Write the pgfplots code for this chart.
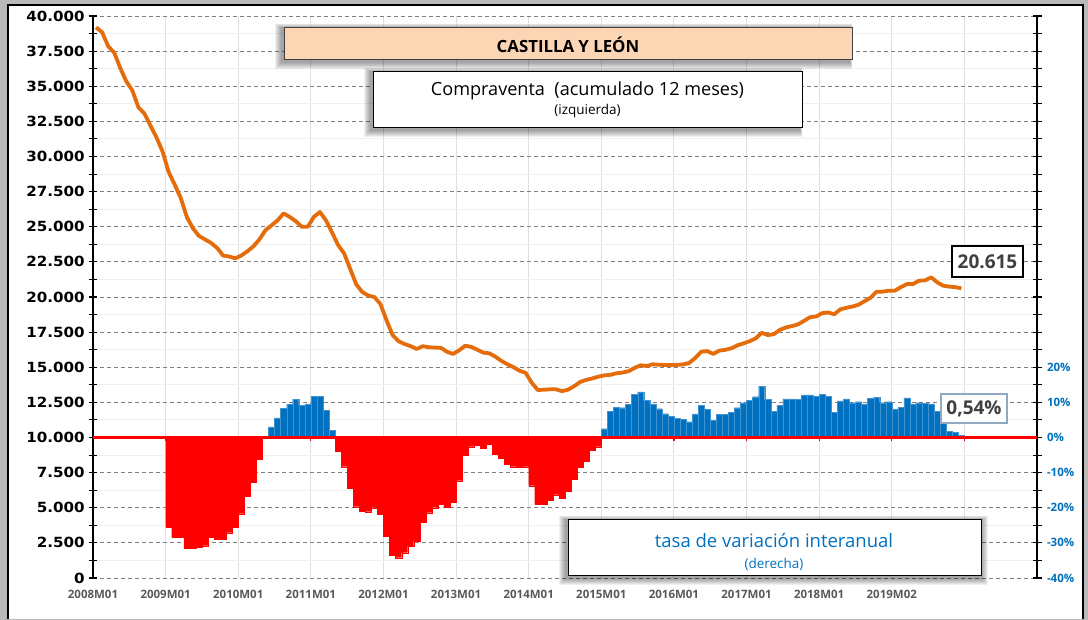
\documentclass[border=0pt]{standalone}
\usepackage{fontspec}
\setmainfont{Open Sans}
\newfontfamily\dejavu{DejaVu Sans}
\usepackage{pgfplots}
\pgfplotsset{compat=1.18}
\definecolor{lineOrange}{RGB}{228,108,10}
\definecolor{barBlue}{RGB}{0,112,192}
\definecolor{barRed}{RGB}{255,0,0}
\definecolor{titlePeach}{RGB}{252,213,181}
\definecolor{tickGray}{RGB}{89,89,89}
\definecolor{labelGray}{RGB}{64,64,64}
\definecolor{boxBlue}{RGB}{142,169,193}

\begin{document}
\begin{tikzpicture}[x=1pt,y=1pt]
% frame of the chart area
\fill[gray!55] (0pt,0pt) rectangle (1088pt,620pt);
\fill[white] (8pt,1pt) rectangle (1083pt,615pt);
\draw[black, line width=1.3pt] (8pt,1pt) -- (8pt,615pt) -- (1083pt,615pt) -- (1083pt,1pt);

% left axis: sales, accumulated 12 months
\begin{axis}[
    at={(93pt,42pt)}, anchor=south west,
    scale only axis,
    width=944pt, height=562pt,
    xmin=-0.5, xmax=155.5,
    ymin=0, ymax=40000,
    axis y line*=left,
    axis x line*=bottom,
    x axis line style={draw=none},
    y axis line style={black, line width=1.2pt},
    xtick={-0.5,11.5,...,143.5},
    xticklabels={2008M01,2009M01,2010M01,2011M01,2012M01,2013M01,2014M01,2015M01,2016M01,2017M01,2018M01,2019M02,{}},
    xtick style={draw=none},
    xticklabel style={font=\bfseries\fontsize{11.5}{12}\selectfont, text=tickGray, yshift=-4pt},
    xmajorgrids=true,
    major x grid style={draw=gray!25, line width=0.9pt},
    ytick={0,2500,...,40000},
    minor y tick num=1,
    tick align=center,
    major tick length=9pt, minor tick length=9pt,
    ytick style={black, line width=1.1pt},
    minor y tick style={black, line width=1.1pt},
    scaled y ticks=false,
    yticklabel style={font=\dejavu\bfseries\fontsize{14}{14}\selectfont, xscale=1.08, text=black,
        /pgf/number format/1000 sep={.}, /pgf/number format/assume math mode=true},
    ymajorgrids=true, yminorgrids=true,
    major y grid style={draw=gray, line width=0.9pt, dash pattern=on 4pt off 3pt},
    minor y grid style={draw=gray!12, line width=0.9pt},
]
\addplot[lineOrange, line width=3.8pt, line join=round] coordinates {
(0,39190) (1,38850) (2,37850) (3,37400) (4,36300) (5,35350) (6,34700) (7,33500)
(8,33050) (9,32200) (10,31350) (11,30350) (12,28900) (13,28000) (14,27050) (15,25700)
(16,24900) (17,24350) (18,24100) (19,23850) (20,23500) (21,22950) (22,22880) (23,22750)
(24,22950) (25,23250) (26,23600) (27,24100) (28,24750) (29,25100) (30,25450) (31,25950)
(32,25700) (33,25400) (34,25000) (35,25000) (36,25700) (37,26050) (38,25450) (39,24600)
(40,23700) (41,23100) (42,22000) (43,20900) (44,20350) (45,20100) (46,20000) (47,19500)
(48,18350) (49,17300) (50,16850) (51,16650) (52,16500) (53,16300) (54,16500) (55,16420)
(56,16400) (57,16380) (58,16100) (59,15950) (60,16200) (61,16530) (62,16450) (63,16250)
(64,16040) (65,15990) (66,15750) (67,15450) (68,15210) (69,15000) (70,14750) (71,14600)
(72,13900) (73,13380) (74,13400) (75,13430) (76,13430) (77,13300) (78,13400) (79,13650)
(80,13950) (81,14100) (82,14200) (83,14330) (84,14420) (85,14460) (86,14570) (87,14620)
(88,14720) (89,14950) (90,15140) (91,15090) (92,15210) (93,15180) (94,15160) (95,15160)
(96,15170) (97,15200) (98,15300) (99,15650) (100,16100) (101,16150) (102,15950) (103,16180)
(104,16240) (105,16350) (106,16560) (107,16700) (108,16850) (109,17050) (110,17450) (111,17290)
(112,17350) (113,17660) (114,17830) (115,17930) (116,18050) (117,18300) (118,18560) (119,18610)
(120,18850) (121,18900) (122,18770) (123,19120) (124,19230) (125,19320) (126,19450) (127,19700)
(128,19950) (129,20380) (130,20380) (131,20450) (132,20450) (133,20700) (134,20920) (135,20920)
(136,21160) (137,21180) (138,21400) (139,21050) (140,20800) (141,20740) (142,20700) (143,20615)
};
\end{axis}

% right axis: year-on-year rate
\begin{axis}[
    at={(93pt,42pt)}, anchor=south west,
    scale only axis,
    width=944pt, height=562pt,
    xmin=-0.5, xmax=155.5,
    ymin=-40, ymax=120,
    axis y line*=right,
    axis x line=none,
    y axis line style={black, line width=1.2pt},
    ytick={-40,-30,...,120},
    yticklabels={-40\%,-30\%,-20\%,-10\%,0\%,10\%,20\%,{},{},{},{},{},{},{},{},{},{}},
    minor y tick num=1,
    tick align=center,
    major tick length=9pt, minor tick length=9pt,
    ytick style={black, line width=1.1pt},
    minor y tick style={black, line width=1.1pt},
    yticklabel style={font=\bfseries\fontsize{11.5}{12}\selectfont, text=barBlue, xshift=2pt},
    ybar=0pt, bar width=1, bar shift=0,
]
\addplot[fill=barBlue, draw=barBlue!75!white, line width=0.2pt] coordinates {
(29,3.0) (30,5.6) (31,8.3) (32,9.4) (33,10.9) (34,9.2) (35,9.6) (36,11.8) (37,11.8) (38,7.8) (39,2.1)
(84,2.5) (85,7.5) (86,8.6) (87,8.5) (88,9.4) (89,12.3) (90,13.0) (91,10.6) (92,9.6) (93,8.2)
(94,6.8) (95,6.1) (96,5.5) (97,5.1) (98,4.5) (99,6.7) (100,9.1) (101,8.0) (102,4.9) (103,6.6)
(104,6.6) (105,7.2) (106,8.5) (107,9.9) (108,10.6) (109,11.6) (110,14.6) (111,10.8) (112,7.5) (113,9.1)
(114,11.0) (115,11.0) (116,10.8) (117,12.1) (118,12.1) (119,11.8) (120,12.3) (121,11.8) (122,7.2) (123,10.4)
(124,11.0) (125,9.9) (126,10.2) (127,9.6) (128,11.1) (129,11.5) (130,9.9) (131,10.2) (132,8.0) (133,8.6)
(134,11.3) (135,9.6) (136,9.9) (137,9.7) (138,9.6) (139,7.5) (140,4.2) (141,1.8) (142,1.5) (143,0.54)
};
\addplot[fill=barRed, draw=barRed, line width=0.2pt] coordinates {
(12,-25.6) (13,-28.5) (14,-28.5) (15,-31.6) (16,-31.6) (17,-31.3) (18,-30.8) (19,-28.5)
(20,-29.0) (21,-29.0) (22,-27.1) (23,-25.6) (24,-21.7) (25,-16.8) (26,-12.8) (27,-6.1) (28,-0.3)
(40,-4.0) (41,-8.3) (42,-14.5) (43,-19.7) (44,-20.9) (45,-21.1) (46,-20.0) (47,-21.9)
(48,-28.2) (49,-33.6) (50,-34.2) (51,-32.8) (52,-30.9) (53,-29.6) (54,-24.2) (55,-21.4)
(56,-20.0) (57,-18.9) (58,-19.9) (59,-18.3) (60,-12.3) (61,-5.0) (62,-2.6) (63,-2.2)
(64,-3.1) (65,-1.9) (66,-4.7) (67,-5.9) (68,-7.5) (69,-8.3) (70,-8.5) (71,-8.3)
(72,-13.7) (73,-19.0) (74,-19.0) (75,-17.9) (76,-16.3) (77,-17.3) (78,-15.4) (79,-11.9)
(80,-8.5) (81,-6.8) (82,-3.7) (83,-2.6)
};
\pgfplotsinvokeforeach{11.5,23.5,...,143.5}{
  \draw[barRed, line width=1.2pt] (axis cs:#1,0) -- (axis cs:#1,-0.9);
}
\end{axis}

% zero line of the rate axis (0 % lies a quarter of the way up the plot area)
\draw[draw=barRed, line width=2.2pt] (93pt,182.5pt) -- (1037pt,182.5pt);

% title box
\foreach \d in {1,2,...,7} {
  \fill[black, opacity=0.06] ({(284-2-\d)*1pt},{(558-\d)*1pt}) rectangle ({(850+\d*0.3)*1pt},{(592+\d*0.6)*1pt});
}
\draw[fill=titlePeach, draw=black!75, line width=1pt] (284pt,560pt) rectangle (852pt,592pt);
\node[font=\bfseries\fontsize{16.8}{17}\selectfont] at (568pt,575.5pt) {CASTILLA Y LEÓN};

% left series box
\foreach \d in {1,2,...,7} {
  \fill[black, opacity=0.06] ({(373-2-\d)*1pt},{(490-\d)*1pt}) rectangle ({(800+\d*0.3)*1pt},{(548+\d*0.6)*1pt});
}
\draw[fill=white, draw=black, line width=1pt] (373pt,492pt) rectangle (802pt,548pt);
\node[font=\fontsize{18.1}{18}\selectfont] at (587.5pt,529pt) {Compraventa\ \ (acumulado 12 meses)};
\node[font=\fontsize{13.5}{14}\selectfont] at (587.5pt,509pt) {(izquierda)};

% right series box
\foreach \d in {1,2,...,7} {
  \fill[black, opacity=0.06] ({(568-2-\d)*1pt},{(42-\d)*1pt}) rectangle ({(981+\d)*1pt},{(100+\d*0.6)*1pt});
}
\draw[fill=white, draw=black, line width=1pt] (568pt,44pt) rectangle (981pt,100pt);
\node[font=\fontsize{18.5}{18}\selectfont, text=barBlue] at (774pt,79.5pt) {tasa de variación interanual};
\node[font=\fontsize{13.5}{14}\selectfont, text=barBlue] at (774pt,56pt) {(derecha)};

% value labels
\draw[fill=white, draw=black, line width=1.2pt] (952pt,343pt) rectangle (1023pt,374pt);
\node[font=\bfseries\fontsize{19}{19}\selectfont, text=labelGray] at (987.5pt,358.5pt) {20.615};
\draw[fill=white, draw=boxBlue, line width=1.2pt] (941pt,197pt) rectangle (1007pt,226pt);
\node[font=\bfseries\fontsize{19}{19}\selectfont, text=labelGray] at (974pt,211.5pt) {0,54\%};
\end{tikzpicture}
\end{document}
